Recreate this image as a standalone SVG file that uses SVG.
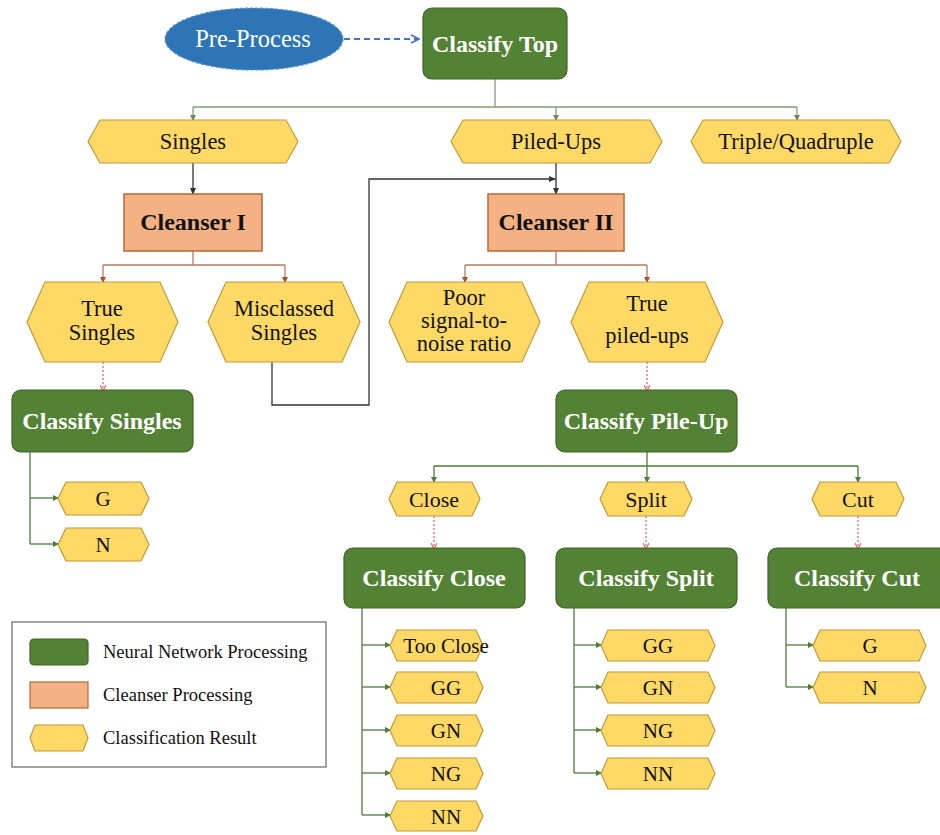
<svg xmlns="http://www.w3.org/2000/svg" width="940" height="835" viewBox="0 0 940 835">
  <defs>
    <style>
      .nn { fill: #548235; stroke: #3e6327; stroke-width: 1.2; }
      .cl { fill: #f4b183; stroke: #b4683a; stroke-width: 1.5; }
      .hx { fill: #ffd966; stroke: #bf9a3a; stroke-width: 1.2; }
      .tw { font-family: "Liberation Serif", "Times New Roman", serif; font-weight: bold; fill: #ffffff; text-anchor: middle; }
      .tb { font-family: "Liberation Serif", "Times New Roman", serif; font-weight: bold; fill: #111111; text-anchor: middle; }
      .t { font-family: "Liberation Serif", "Times New Roman", serif; fill: #111111; text-anchor: middle; }
      .lg { font-family: "Liberation Serif", "Times New Roman", serif; fill: #111111; font-size: 18.5px; }
      .cg { fill: none; stroke: #819d73; stroke-width: 1.3; }
      .cgd { fill: none; stroke: #4e7a3a; stroke-width: 1.3; }
      .cb { fill: none; stroke: #b97c5c; stroke-width: 1.3; }
      .ck { fill: none; stroke: #333333; stroke-width: 1.3; }
      .cr { fill: none; stroke: #e23a3a; stroke-width: 1; stroke-dasharray: 2 2; }
    </style>
    <marker id="ag" markerWidth="6" markerHeight="6" refX="5" refY="3" orient="auto" markerUnits="userSpaceOnUse">
      <path d="M0,0 L6,3 L0,6 z" fill="#6b8a5c"/>
    </marker>
    <marker id="agd" markerWidth="6" markerHeight="6" refX="5" refY="3" orient="auto" markerUnits="userSpaceOnUse">
      <path d="M0,0 L6,3 L0,6 z" fill="#4e7a3a"/>
    </marker>
    <marker id="ab" markerWidth="6" markerHeight="6" refX="5" refY="3" orient="auto" markerUnits="userSpaceOnUse">
      <path d="M0,0 L6,3 L0,6 z" fill="#a0522d"/>
    </marker>
    <marker id="ak" markerWidth="7" markerHeight="6" refX="6" refY="3" orient="auto" markerUnits="userSpaceOnUse">
      <path d="M0,0 L7,3 L0,6 z" fill="#333333"/>
    </marker>
    <marker id="ar" markerWidth="6" markerHeight="6" refX="5" refY="3" orient="auto" markerUnits="userSpaceOnUse">
      <path d="M0,0 L6,3 L0,6" fill="none" stroke="#e23a3a" stroke-width="1"/>
    </marker>
    <marker id="abl" markerWidth="10" markerHeight="10" refX="9" refY="5" orient="auto" markerUnits="userSpaceOnUse">
      <path d="M1,1 L9,5 L1,9" fill="none" stroke="#4472c4" stroke-width="1.6"/>
    </marker>
  </defs>

  <rect width="940" height="835" fill="#ffffff"/>

  <!-- connectors -->
  <g id="connectors">
    <path d="M344,39 L419,39" fill="none" stroke="#4472c4" stroke-width="2" stroke-dasharray="6 4" marker-end="url(#abl)"/>
    <path class="cg" d="M495,79 V107 M193,107 H797"/>
    <path class="cg" d="M193,107 V120" marker-end="url(#ag)"/>
    <path class="cg" d="M556,107 V120" marker-end="url(#ag)"/>
    <path class="cg" d="M797,107 V120" marker-end="url(#ag)"/>

    <path class="ck" d="M193,163 V194" marker-end="url(#ak)"/>
    <path class="ck" d="M556,163 V194" marker-end="url(#ak)"/>
    <path class="ck" d="M272,362 V405 H369 V179 H555" marker-end="url(#ak)"/>

    <path class="cb" d="M193,251 V265 M103,265 H285"/>
    <path class="cb" d="M103,265 V282" marker-end="url(#ab)"/>
    <path class="cb" d="M285,265 V282" marker-end="url(#ab)"/>
    <path class="cb" d="M556,251 V265 M465,265 H647"/>
    <path class="cb" d="M465,265 V282" marker-end="url(#ab)"/>
    <path class="cb" d="M647,265 V282" marker-end="url(#ab)"/>

    <path class="cr" d="M103,362 V390" marker-end="url(#ar)"/>
    <path class="cr" d="M647,362 V390" marker-end="url(#ar)"/>

    <path class="cgd" d="M30,452 V544"/>
    <path class="cgd" d="M30,498 H58" marker-end="url(#agd)"/>
    <path class="cgd" d="M30,544 H58" marker-end="url(#agd)"/>

    <path class="cgd" d="M647,452 V466 M434,466 H858"/>
    <path class="cgd" d="M434,466 V482" marker-end="url(#agd)"/>
    <path class="cgd" d="M647,466 V482" marker-end="url(#agd)"/>
    <path class="cgd" d="M858,466 V482" marker-end="url(#agd)"/>

    <path class="cr" d="M434,516 V548" marker-end="url(#ar)"/>
    <path class="cr" d="M646,516 V548" marker-end="url(#ar)"/>
    <path class="cr" d="M858,516 V548" marker-end="url(#ar)"/>

    <path class="cgd" d="M362,608 V815"/>
    <path class="cgd" d="M362,645 H390" marker-end="url(#agd)"/>
    <path class="cgd" d="M362,687 H390" marker-end="url(#agd)"/>
    <path class="cgd" d="M362,730 H390" marker-end="url(#agd)"/>
    <path class="cgd" d="M362,773 H390" marker-end="url(#agd)"/>
    <path class="cgd" d="M362,815 H390" marker-end="url(#agd)"/>

    <path class="cgd" d="M574,608 V773"/>
    <path class="cgd" d="M574,645 H601" marker-end="url(#agd)"/>
    <path class="cgd" d="M574,687 H601" marker-end="url(#agd)"/>
    <path class="cgd" d="M574,730 H601" marker-end="url(#agd)"/>
    <path class="cgd" d="M574,773 H601" marker-end="url(#agd)"/>

    <path class="cgd" d="M786,608 V687"/>
    <path class="cgd" d="M786,645 H813" marker-end="url(#agd)"/>
    <path class="cgd" d="M786,687 H813" marker-end="url(#agd)"/>
  </g>

  <!-- top level -->
  <g id="pre-process">
    <ellipse cx="254" cy="39" rx="89" ry="31" fill="#2e75b6" stroke="#5b8fd0" stroke-width="1.2" stroke-dasharray="3 2"/>
    <text class="t" x="253" y="47" font-size="24.5" style="fill:#ffffff">Pre-Process</text>
  </g>
  <g id="classify-top">
    <rect class="nn" x="423" y="8" width="144" height="71" rx="9"/>
    <text class="tw" x="495" y="52" font-size="24">Classify Top</text>
  </g>

  <g id="singles">
    <path class="hx" d="M88,141.5 L100,120 H286 L298,141.5 L286,163 H100 Z"/>
    <text class="t" x="193" y="149" font-size="22.5">Singles</text>
  </g>
  <g id="piled-ups">
    <path class="hx" d="M451,141.5 L463,120 H650 L662,141.5 L650,163 H463 Z"/>
    <text class="t" x="556" y="149" font-size="22.5">Piled-Ups</text>
  </g>
  <g id="triple-quadruple">
    <path class="hx" d="M691,141.5 L703,120 H889 L901,141.5 L889,163 H703 Z"/>
    <text class="t" x="796" y="149" font-size="22.5">Triple/Quadruple</text>
  </g>

  <g id="cleanser-1">
    <rect class="cl" x="124" y="194" width="138" height="57"/>
    <text class="tb" x="193" y="230" font-size="24">Cleanser I</text>
  </g>
  <g id="cleanser-2">
    <rect class="cl" x="488" y="194" width="136" height="57"/>
    <text class="tb" x="556" y="230" font-size="24">Cleanser II</text>
  </g>

  <g id="true-singles">
    <path class="hx" d="M27,322 L45,282 H160 L178,322 L160,362 H45 Z"/>
    <text class="t" x="102" y="316" font-size="22.5">True</text>
    <text class="t" x="102" y="340" font-size="22.5">Singles</text>
  </g>
  <g id="misclassed-singles">
    <path class="hx" d="M208,322 L226,282 H342 L360,322 L342,362 H226 Z"/>
    <text class="t" x="284" y="316" font-size="22.5">Misclassed</text>
    <text class="t" x="284" y="340" font-size="22.5">Singles</text>
  </g>
  <g id="poor-snr">
    <path class="hx" d="M389,322 L407,282 H522 L540,322 L522,362 H407 Z"/>
    <text class="t" x="464" y="305" font-size="22.5">Poor</text>
    <text class="t" x="464" y="328" font-size="22.5">signal-to-</text>
    <text class="t" x="464" y="351" font-size="22.5">noise ratio</text>
  </g>
  <g id="true-piled-ups">
    <path class="hx" d="M571,322 L589,282 H705 L723,322 L705,362 H589 Z"/>
    <text class="t" x="647" y="311" font-size="22.5">True</text>
    <text class="t" x="647" y="343" font-size="22.5">piled-ups</text>
  </g>

  <g id="classify-singles">
    <rect class="nn" x="12" y="390" width="181" height="62" rx="9"/>
    <text class="tw" x="102" y="429" font-size="24">Classify Singles</text>
  </g>
  <g id="singles-g">
    <path class="hx" d="M58,498.5 L66,482 H141 L149,498.5 L141,515 H66 Z"/>
    <text class="t" x="103" y="506" font-size="21">G</text>
  </g>
  <g id="singles-n">
    <path class="hx" d="M58,544.5 L66,528 H141 L149,544.5 L141,561 H66 Z"/>
    <text class="t" x="103" y="552" font-size="21">N</text>
  </g>

  <g id="classify-pile-up">
    <rect class="nn" x="556" y="390" width="181" height="62" rx="9"/>
    <text class="tw" x="646" y="429" font-size="24">Classify Pile-Up</text>
  </g>

  <g id="close">
    <path class="hx" d="M389,499 L397,482 H472 L480,499 L472,516 H397 Z"/>
    <text class="t" x="434" y="507" font-size="22">Close</text>
  </g>
  <g id="split">
    <path class="hx" d="M600,499 L608,482 H684 L692,499 L684,516 H608 Z"/>
    <text class="t" x="646" y="507" font-size="22">Split</text>
  </g>
  <g id="cut">
    <path class="hx" d="M812,499 L820,482 H896 L904,499 L896,516 H820 Z"/>
    <text class="t" x="858" y="507" font-size="22">Cut</text>
  </g>

  <g id="classify-close">
    <rect class="nn" x="344" y="548" width="181" height="60" rx="9"/>
    <text class="tw" x="434" y="586" font-size="24">Classify Close</text>
  </g>
  <g id="classify-split">
    <rect class="nn" x="556" y="548" width="181" height="60" rx="9"/>
    <text class="tw" x="646" y="586" font-size="24">Classify Split</text>
  </g>
  <g id="classify-cut">
    <rect class="nn" x="768" y="548" width="185" height="60" rx="9"/>
    <text class="tw" x="857" y="586" font-size="24">Classify Cut</text>
  </g>

  <!-- close results -->
  <g id="close-too-close">
    <path class="hx" d="M390,645.5 L397,630 H476 L483,645.5 L476,661 H397 Z"/>
    <text class="t" x="446" y="653" font-size="21">Too Close</text>
  </g>
  <g id="close-gg">
    <path class="hx" d="M390,687.5 L397,672 H476 L483,687.5 L476,703 H397 Z"/>
    <text class="t" x="446" y="695" font-size="21">GG</text>
  </g>
  <g id="close-gn">
    <path class="hx" d="M390,730.5 L397,715 H476 L483,730.5 L476,746 H397 Z"/>
    <text class="t" x="446" y="738" font-size="21">GN</text>
  </g>
  <g id="close-ng">
    <path class="hx" d="M390,773.5 L397,758 H476 L483,773.5 L476,789 H397 Z"/>
    <text class="t" x="446" y="781" font-size="21">NG</text>
  </g>
  <g id="close-nn">
    <path class="hx" d="M390,816 L397,801 H476 L483,816 L476,831 H397 Z"/>
    <text class="t" x="446" y="823.5" font-size="21">NN</text>
  </g>

  <!-- split results -->
  <g id="split-gg">
    <path class="hx" d="M601,645.5 L608,630 H708 L715,645.5 L708,661 H608 Z"/>
    <text class="t" x="658" y="653" font-size="21">GG</text>
  </g>
  <g id="split-gn">
    <path class="hx" d="M601,687.5 L608,672 H708 L715,687.5 L708,703 H608 Z"/>
    <text class="t" x="658" y="695" font-size="21">GN</text>
  </g>
  <g id="split-ng">
    <path class="hx" d="M601,730.5 L608,715 H708 L715,730.5 L708,746 H608 Z"/>
    <text class="t" x="658" y="738" font-size="21">NG</text>
  </g>
  <g id="split-nn">
    <path class="hx" d="M601,773.5 L608,758 H708 L715,773.5 L708,789 H608 Z"/>
    <text class="t" x="658" y="781" font-size="21">NN</text>
  </g>

  <!-- cut results -->
  <g id="cut-g">
    <path class="hx" d="M813,645.5 L820,630 H919 L926,645.5 L919,661 H820 Z"/>
    <text class="t" x="870" y="653" font-size="21">G</text>
  </g>
  <g id="cut-n">
    <path class="hx" d="M813,687.5 L820,672 H919 L926,687.5 L919,703 H820 Z"/>
    <text class="t" x="870" y="695" font-size="21">N</text>
  </g>

  <!-- legend -->
  <g id="legend">
    <rect x="12" y="622" width="314" height="145" fill="#ffffff" stroke="#666666" stroke-width="1.2"/>
    <rect class="nn" x="30" y="639" width="58" height="26" rx="4"/>
    <rect class="cl" x="30" y="682" width="58" height="26" style="stroke-width:1.2"/>
    <path class="hx" d="M30,738 L35,725 H83 L88,738 L83,751 H35 Z"/>
    <text class="lg" x="103" y="658">Neural Network Processing</text>
    <text class="lg" x="103" y="701">Cleanser Processing</text>
    <text class="lg" x="103" y="744">Classification Result</text>
  </g>
</svg>
